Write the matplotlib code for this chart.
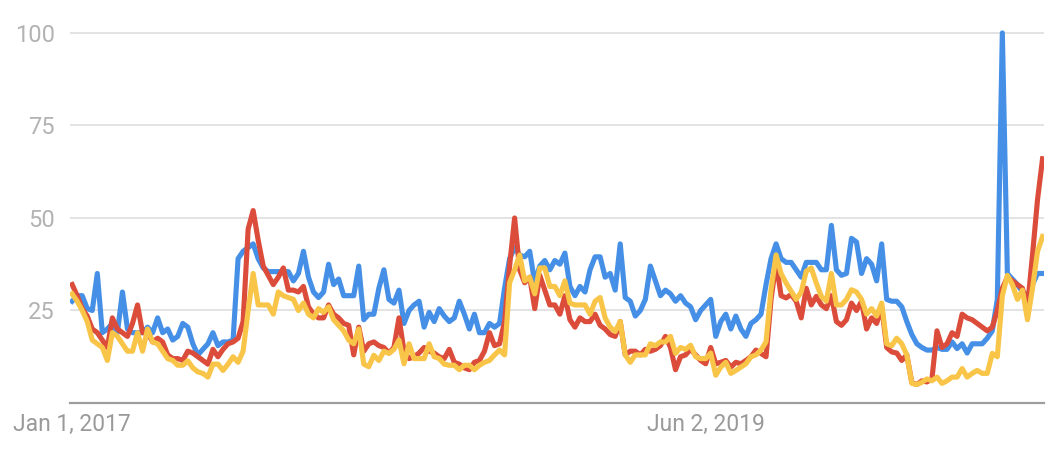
import matplotlib.pyplot as plt
import pandas as pd

plt.rcParams["font.family"] = ["Roboto", "DejaVu Sans"]

weeks = pd.date_range("2017-01-01", periods=194, freq="7D")
tick_dates = [weeks[0], weeks[126]]
tick_labels = ["Jan 1, 2017", "Jun 2, 2019"]

blue = [27.5, 29, 29, 25.5, 25, 35, 19, 20, 21.5, 19, 30, 20, 19, 19, 19, 20.5, 19, 23, 19, 20,
        17, 18, 21.5, 20.5, 16, 13, 14.5, 16, 19, 15.5, 16.5, 16.5, 17, 39, 41, 42, 43, 39, 36.5, 35.5,
        35.5, 35.5, 35.5, 35.5, 33, 35, 41, 34, 30, 28.5, 30, 37.5, 32, 33.5, 29, 29, 29, 37, 22.5, 24,
        24, 31, 36, 28, 27, 30.5, 21.5, 25, 26.5, 27.5, 20.5, 24.5, 22, 25.5, 23.5, 22, 23, 27.5, 24, 20,
        24, 19, 19, 21.5, 20.5, 21.5, 31, 39, 42, 40, 39.5, 41, 32.5, 37, 38.5, 36, 38.5, 37.5, 40.5, 31.5,
        29, 31.5, 30, 36, 39.5, 39.5, 34, 35, 30.5, 43, 28.5, 27.5, 23.5, 25, 28, 37, 33, 29, 30.5, 29.5,
        27.5, 29, 27, 26, 22.5, 25, 26.5, 28, 18, 22, 24, 20, 23.5, 20, 18, 21.5, 22.5, 24, 32, 39,
        43, 39, 38, 38, 36, 34, 38, 38, 38, 36, 36, 48, 36, 34.5, 35, 44.5, 43.5, 35, 39, 37.5,
        33, 43, 28, 27.5, 27.5, 26, 22, 18.5, 16, 15, 14.3, 14.3, 15, 14.5, 14.5, 16.5, 14.7, 16, 13.5, 16,
        16, 16, 17.5, 19.5, 28, 100, 35, 33.5, 32, 30, 29, 32, 35, 35]

red = [32, 29, 25.5, 23.5, 20, 19, 17, 15, 23, 20, 19, 18, 21.5, 26.5, 19, 19, 16.5, 17.5, 16.5, 13,
       12, 12, 11.5, 14, 13.5, 12.5, 11.5, 10.5, 14.5, 12.5, 14.5, 16, 16.5, 17.5, 22, 47, 52, 44, 37, 34.5,
       32, 34, 36.5, 30.5, 30.5, 30, 31.5, 26, 24, 23, 23, 26.5, 24, 23, 21.5, 21, 13, 20.5, 14, 16,
       16.5, 15.5, 15, 13.5, 15, 23, 14, 12, 12.5, 13.5, 15, 14, 13.5, 12.5, 12, 14.5, 11, 10.5, 9.5, 9,
       11, 11.5, 14, 19, 15.5, 16, 22, 37, 50, 36, 32.5, 34, 25.5, 34.5, 30.5, 26.5, 26.5, 24, 29, 22.5,
       20.5, 23, 22, 22, 24, 21, 20, 18.5, 18, 22, 13, 14, 14, 13, 14.5, 14, 14.5, 15.5, 18, 15,
       9, 12.5, 13, 14.5, 13, 11.5, 10.6, 15, 10.6, 11, 11.5, 9.7, 11, 10.6, 11.5, 12.5, 14.3, 13.4, 12.5, 28,
       38, 29, 28.4, 29.3, 27.5, 23, 31, 26.5, 28.8, 26.5, 25.5, 29, 22, 21, 22.5, 27, 25, 27.5, 20, 23,
       21.5, 26, 15, 13.8, 13.5, 11.5, 13, 5.5, 5, 6, 5.7, 6.5, 19.5, 15, 16, 19, 18, 24, 23, 22.5,
       21.5, 20.5, 19.5, 20.5, 25, 31, 34, 33, 32, 31, 26, 40, 55, 66]

yellow = [29.5, 27.5, 25, 22, 17, 16, 15, 11.5, 19, 18, 16, 14, 14, 19, 14, 20, 16.5, 16, 14, 12,
          11.5, 10.2, 10.2, 11.4, 9.5, 8.4, 8, 7, 10.5, 10.5, 8.8, 10.5, 12.5, 11, 14, 25, 35, 26.5, 26.5, 26.5,
          24, 30, 29, 28.5, 28, 25, 27, 24, 23, 25.5, 24.5, 26, 22.5, 21, 19.5, 17, 16, 20, 10.5, 9.8,
          12.9, 11.5, 14, 13.4, 14.5, 17, 10.6, 16, 12, 12, 12, 16, 12.5, 12, 10.5, 10.2, 10.2, 9, 10.2, 10.2,
          9, 10.2, 11, 11.5, 13, 14.3, 13, 32.5, 36, 40, 33, 34, 29.5, 36.5, 36.5, 31.5, 31.5, 29, 33, 27,
          26.5, 26.5, 26.5, 24, 27.5, 28.5, 23, 20.5, 19.3, 22, 13, 11, 13, 13, 13, 16, 15.5, 16.5, 16.5, 18,
          13.4, 15, 14.5, 15.6, 12.5, 12, 12, 13.5, 7.5, 9.7, 11, 8, 8.8, 9.7, 10.6, 12.5, 13, 14.3, 16.5, 30.6,
          40, 35, 32.4, 30.2, 28, 30, 35.6, 36.5, 32.4, 28.8, 27.5, 35, 26.5, 26.5, 28, 30.6, 30, 28, 24, 25.5,
          23.5, 27, 16, 15.5, 17.5, 16, 13, 5.3, 5, 5.6, 6.5, 6, 7, 5.3, 6, 7, 7, 9.3, 7, 8,
          8.8, 8, 8, 13.4, 12.5, 29, 34.5, 32, 28, 30.5, 22.5, 31, 41, 45]

fig = plt.figure(figsize=(10.62, 4.54), dpi=100)
ax = fig.add_axes([70 / 1062, 51 / 454, 974 / 1062, 383 / 454])

ax.plot(weeks, blue, color="#4590e6", lw=3.7)
ax.plot(weeks, red, color="#dc4c3a", lw=3.7)
ax.plot(weeks, yellow, color="#f8c548", lw=3.7)

ax.set_xlim(weeks[0] - pd.Timedelta(days=3), weeks[-1] + pd.Timedelta(days=2))
ax.set_ylim(0, 103.5)
ax.set_yticks([25, 50, 75, 100])
ax.set_xticks(tick_dates)
ax.set_xticklabels(tick_labels)

ax.grid(axis="y", color="#e0e0e0", lw=1.3)
ax.set_axisbelow(True)
for side in ["top", "right", "left"]:
    ax.spines[side].set_visible(False)
ax.spines["bottom"].set_color("#9e9e9e")
ax.spines["bottom"].set_linewidth(1.6)

ax.tick_params(axis="y", length=0, pad=11, labelsize=17, labelcolor="#b3b3b3")
ax.tick_params(axis="x", length=0, pad=7, labelsize=16.5, labelcolor="#9a9a9a")

fig.savefig("out.png", dpi=100)
